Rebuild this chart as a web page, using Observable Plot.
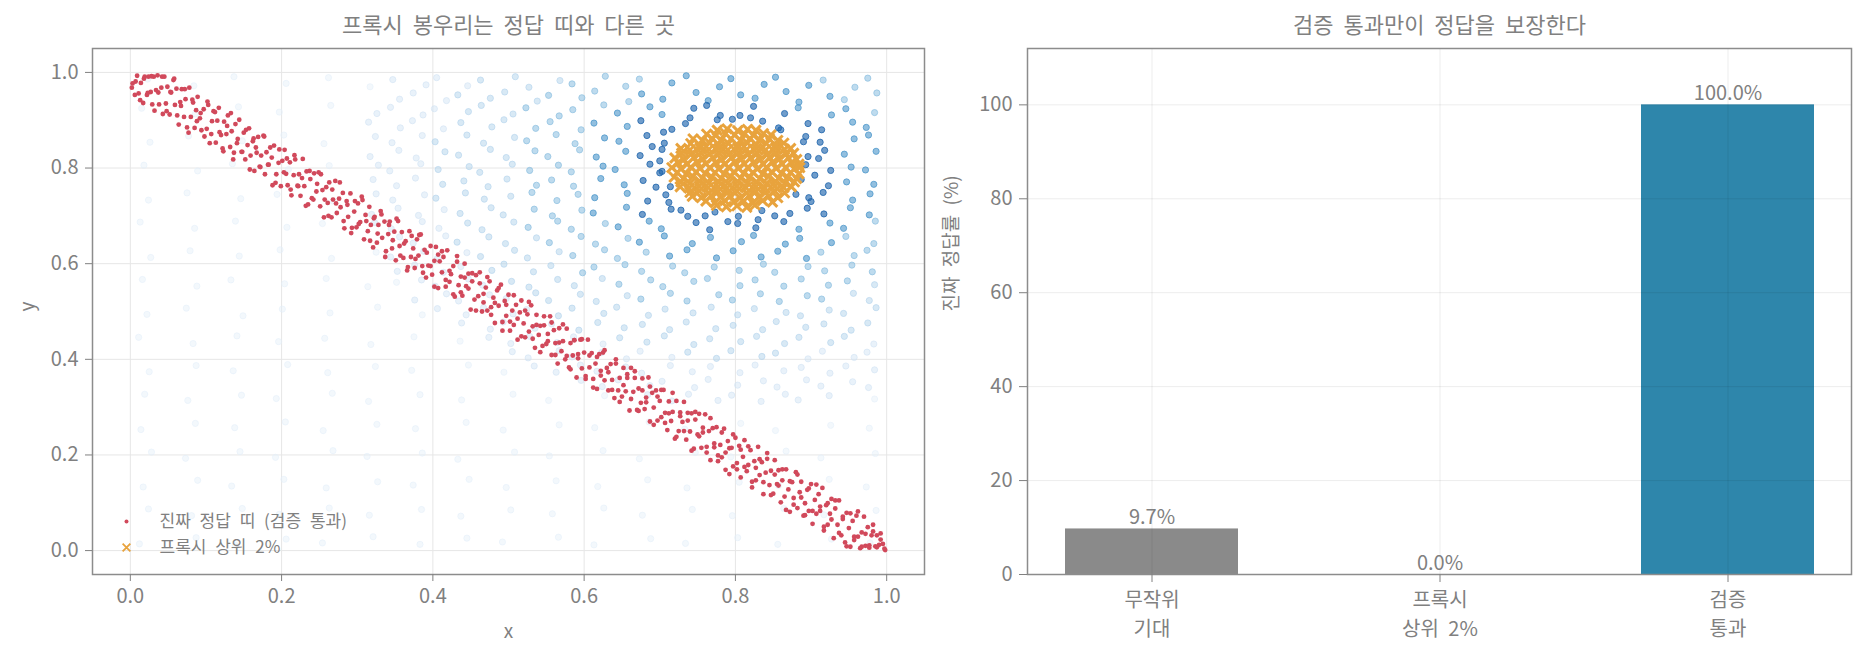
<!DOCTYPE html>
<html>
<head>
<meta charset="utf-8">
<script src="https://cdn.jsdelivr.net/npm/d3@7"></script>
<script src="https://cdn.jsdelivr.net/npm/@observablehq/plot@0.6"></script>
<style>
  html, body { margin: 0; padding: 0; background: #ffffff; }
  #wrap { position: relative; width: 1874px; height: 658px; overflow: hidden; }
  #left { position: absolute; left: 0; top: 0; }
  #right { position: absolute; left: 937px; top: 0; }
</style>
</head>
<body>
<div id="wrap"><div id="left"></div><div id="right"></div></div>
<script>
// ---------------- DATA (scatter coordinates in thousandths, flat x,y pairs) ----------------
const trueBand = [3,977,6,953,9,993,11,956,14,978,17,936,19,991,22,953,24,991,27,959,29,933,31,991,34,963,36,994,38,933,41,968,43,913,45,991,47,935,49,970,
52,912,54,958,57,984,59,932,61,966,64,891,66,938,68,965,71,907,73,944,75,885,78,968,80,907,82,943,85,884,87,921,89,949,92,904,94,879,97,923,
101,882,103,932,105,852,108,898,110,919,113,853,115,899,117,926,120,869,122,841,124,897,127,871,129,910,132,844,134,877,136,818,139,892,141,852,144,901,147,834,
150,874,152,818,155,848,157,883,159,826,162,856,164,794,166,843,169,865,171,803,173,826,176,868,178,787,180,833,183,807,185,843,188,764,190,847,193,787,196,811,
199,762,201,815,204,838,206,788,208,764,211,812,213,743,216,785,218,818,221,763,223,787,225,742,228,819,230,762,233,793,235,724,238,777,240,737,243,789,246,751,
249,791,251,720,254,754,256,697,259,760,261,727,263,770,266,697,268,734,271,773,273,706,276,736,278,718,281,748,283,674,286,731,288,698,291,747,293,675,296,709,
299,676,301,726,304,687,306,740,309,651,311,702,314,668,316,719,318,681,321,634,323,698,326,644,328,681,331,710,333,654,336,688,338,626,341,662,343,688,346,632,
349,667,351,607,354,689,356,637,359,666,361,612,364,647,366,586,369,668,371,614,374,632,376,591,379,651,381,617,384,661,386,595,389,629,391,571,394,596,397,637,
399,577,402,606,404,635,407,549,409,605,412,582,414,614,417,552,419,628,422,562,424,578,427,595,429,531,432,604,434,555,437,573,439,533,442,600,444,553,447,579,
450,504,452,563,455,525,457,576,460,532,462,582,465,500,467,537,470,550,472,502,475,563,477,509,480,529,482,476,485,544,487,512,490,556,492,478,495,522,497,491,
500,535,502,460,505,502,507,472,510,514,512,441,515,498,517,523,520,475,522,446,525,494,527,458,530,513,532,469,535,424,537,493,540,451,542,470,545,428,547,490,
550,432,552,453,555,490,557,409,560,461,562,434,565,391,567,465,570,417,572,438,575,400,577,464,580,383,582,434,585,408,587,440,590,362,592,411,595,441,597,381,
600,414,602,359,605,441,607,383,610,413,612,359,615,391,617,338,620,411,622,376,625,414,627,356,630,382,632,335,635,390,637,357,640,319,642,400,645,335,647,361,
650,322,652,382,655,333,657,361,660,293,662,382,665,332,667,361,670,294,672,339,675,309,677,360,680,296,682,320,685,362,687,270,690,330,692,299,695,335,697,272,
700,313,702,279,705,336,707,288,710,252,712,312,715,271,717,290,720,234,722,313,725,250,727,289,730,269,732,311,735,232,737,272,740,249,742,287,745,213,747,274,
750,243,752,286,755,215,757,247,760,285,762,217,765,250,767,189,770,256,772,216,775,258,777,187,780,221,782,195,785,255,787,205,790,229,792,160,795,215,797,176,
800,236,802,183,805,219,807,153,810,196,812,231,815,166,817,179,820,210,822,144,825,187,827,147,830,217,832,158,835,185,837,118,840,163,842,192,845,137,847,167,
850,119,852,189,855,139,857,168,860,101,862,147,865,113,867,170,870,128,872,81,875,143,877,110,880,164,882,89,885,122,887,144,890,73,892,99,895,127,897,83,
900,139,902,56,905,106,907,77,910,118,912,83,915,131,917,50,920,95,922,54,925,77,927,108,930,26,932,88,935,54,937,105,940,32,942,66,945,17,947,79,
950,47,952,8,955,62,957,22,960,73,962,29,965,5,967,38,970,71,972,10,975,49,977,11,980,32,982,54,985,9,987,32,990,12,992,36,995,14,998,1,
2,968,7,981,13,942,18,987,23,957,28,992,32,920,37,958,42,991,48,919,53,959,58,987,62,910,67,930,72,965,77,874,83,937,88,898,93,915,98,866,
102,939,107,871,112,917,118,875,123,835,128,888,133,915,137,832,142,861,148,834,153,880,158,797,163,862,167,832,172,802,177,866,182,807,187,822,192,769,197,839,
203,791,207,820,212,755,217,827,222,762,227,779,232,721,237,794,242,734,247,767,252,787,257,734,262,700,267,755,272,726,277,770,282,689,287,723,292,664,297,731,
302,683,307,733,312,689,317,648,322,695,327,663,332,703,337,614,342,681,347,649,352,694,357,617,362,642,367,593,372,658,377,610,382,660,387,581,392,623,397,595,
402,552,407,619,412,626,417,566,422,585,427,536,432,616,437,540,442,571,447,548,452,580,457,502,462,559,467,519,472,572,477,493,482,518,487,549,492,460,497,514,
502,479,507,534,512,485,517,448,522,502,527,520,532,443,537,472,542,415,547,471,552,438,557,477,562,409,567,435,572,473,577,407,582,379,587,440,592,402,597,442,
602,365,607,408,612,341,617,405,622,366,627,419,632,373,637,336,642,391,647,311,652,346,657,369,662,317,667,375,672,292,677,335,682,310,687,343,692,263,697,322,
702,336,707,267,712,287,717,330,722,238,727,281,732,250,737,288,742,209,747,290,752,239,757,257,762,205,767,277,772,224,777,199,782,247,787,169,792,214,797,243,
802,170,807,211,812,175,817,218,822,132,827,173,832,191,837,143,842,204,847,116,852,159,857,136,862,170,867,85,872,145,877,96,882,159,887,111,892,74,897,130,
902,83,907,138,912,92,917,42,922,99,927,65,932,105,937,37,942,71,947,9,952,78,957,29,962,82,967,8,972,35,977,6,982,40,987,7,992,23,997,4];

const proxyTop = [775,722,788,719,802,721,815,718,826,723,
761,731,773,728,786,732,798,729,811,731,823,727,836,732,849,729,
743,741,755,738,768,742,780,739,793,741,806,737,818,742,831,739,844,741,856,738,
740,749,752,752,765,748,777,751,790,749,802,752,815,748,827,751,840,749,852,752,865,748,
727,761,739,758,752,762,764,759,777,761,789,758,802,762,814,759,827,761,839,758,852,762,864,759,874,761,
728,771,740,768,753,772,765,769,778,771,790,768,803,772,816,769,828,771,841,768,853,772,866,769,878,771,
719,781,731,778,744,782,756,779,769,781,781,778,794,782,807,779,819,781,832,778,844,782,857,779,869,781,881,778,
723,791,735,788,748,792,760,789,773,791,785,788,798,792,811,789,823,791,836,788,848,792,861,789,873,791,884,788,
716,801,728,798,741,802,753,799,766,801,778,798,791,802,804,799,816,801,829,798,841,802,854,799,866,801,878,798,885,801,
724,811,736,808,749,812,761,809,774,811,786,808,799,812,812,809,824,811,837,808,849,812,862,809,874,811,884,808,
720,821,732,818,745,822,757,819,770,821,782,818,795,822,808,819,820,821,833,818,845,822,858,819,870,821,881,818,
729,831,741,828,754,832,766,829,779,831,791,828,804,832,817,829,829,831,842,828,854,832,867,829,877,831,
728,841,740,838,753,842,765,839,778,841,790,838,803,842,815,839,828,841,840,838,853,842,865,839,873,841,
741,851,753,848,766,852,778,849,791,851,803,848,816,852,828,849,841,851,853,848,864,852,
744,861,756,858,769,862,781,859,794,861,807,858,819,862,832,859,845,861,856,858,
762,871,774,868,787,872,799,869,812,871,824,868,837,872,847,869,
776,879,789,882,803,878,816,881,827,879];

// background points grouped by proxy-score shade (darkest = highest score)
const scoreDark = [745,925,762,931,806,910,824,929,865,914,
675,899,716,881,734,893,776,901,796,902,836,898,857,884,896,893,914,880,
683,868,706,852,893,866,912,854,674,826,703,839,896,824,918,837,
687,808,703,793,893,807,926,795,678,774,714,761,887,776,923,763,
684,731,708,744,897,738,916,749,
677,703,715,714,737,699,773,708,804,699,835,711,852,700,895,716,917,704,
748,686,766,671,803,684,827,675,864,688,
690,845,700,815,695,760,712,728,760,700,790,688,830,692,872,705,900,730,905,785,
910,820,890,855,860,880,820,905,780,910,740,905,705,875,880,745,728,712,700,790];

const scoreMid = [716,978,735,993,779,970,794,987,838,975,853,990,897,973,
676,955,704,944,748,958,764,941,807,953,826,946,867,960,884,938,925,950,
644,915,687,928,703,912,883,926,927,911,946,924,
613,894,657,887,955,896,973,885,627,863,646,856,957,861,976,869,
616,823,655,835,944,829,986,835,625,804,641,797,953,802,972,796,
622,778,653,765,947,771,983,766,614,738,657,747,955,733,978,746,
612,706,656,718,952,717,977,702,
645,677,686,689,702,673,884,672,925,685,943,674,
673,645,706,658,743,642,767,655,808,646,824,659,866,641,885,653,927,644,
713,616,736,629,775,612,797,627,834,614,856,626,894,611];

const scoreLight = [584,976,628,992,655,971,673,986,916,984,958,969,975,988,
553,952,597,947,614,961,659,939,944,943,987,957,
523,926,567,909,585,922,626,932,984,916,
536,883,555,897,596,880,524,857,563,870,588,851,535,836,552,824,594,838,
528,795,566,806,583,792,537,764,557,775,586,762,531,749,564,732,592,745,
534,714,558,700,597,712,
526,676,565,689,583,672,628,684,985,689,
554,644,596,657,615,641,658,653,946,657,983,642,
585,617,627,629,644,611,682,624,913,624,957,617,974,628,
598,581,613,593,654,598,676,584,717,595,733,581,772,593,805,586,837,599,852,582,896,594,918,585,954,597,981,583,
646,557,688,566,704,552,745,563,763,569,806,554,826,566,864,553,887,568,923,555,948,564,
675,526,714,538,736,522,778,535,796,524,833,537,858,521,895,533,914,526];

const scorePale = [463,984,509,991,527,969,568,983,433,953,476,946,495,959,538,940,
447,918,464,931,506,913,437,895,478,886,494,901,
403,855,445,869,467,852,508,864,416,834,434,827,476,839,497,822,
407,797,448,803,462,791,505,808,413,766,441,773,473,761,498,777,
404,737,443,748,468,735,503,741,436,705,477,717,493,702,446,685,465,671,507,687,
432,645,474,656,496,642,537,654,463,615,508,628,525,612,567,625,
478,586,494,599,533,583,556,596,
504,563,527,551,565,567,587,554,624,569,984,556,
536,539,553,523,595,536,616,521,657,533,956,538,977,523,
566,491,584,507,626,496,643,509,685,492,707,505,744,497,768,509,803,493,825,506,867,498,886,491,924,503,943,496,986,508,
593,461,618,477,653,466,677,473,713,462,735,478,774,464,797,471,836,462,854,479,893,467,917,474,953,461,975,476,
647,445,683,436,706,449,745,431,766,443,807,437,828,448,865,433,884,446,926,435,944,448,
737,415,775,402,794,418,835,406,853,413];

const scoreLow = [347,985,391,974,405,989,446,972,356,944,374,957,418,941,
326,914,344,927,387,911,402,924,315,896,357,884,373,899,414,882,
324,866,346,853,386,868,317,824,355,837,378,821,328,806,343,794,384,809,
321,776,352,763,377,779,325,746,347,733,389,744,
319,703,354,716,381,701,415,713,323,686,345,673,386,688,408,674,
356,656,374,643,417,658,344,614,388,626,406,611,445,623,
353,584,376,597,414,582,437,594,385,566,403,553,447,568,466,555,
376,524,418,537,434,522,475,535,497,527,406,506,444,493,467,508,506,495,524,504,
438,476,476,463,493,478,535,465,557,474,
474,446,503,433,528,448,564,435,586,447,625,432,983,432,
505,416,526,403,567,418,584,405,623,414,656,401,674,417,716,404,896,401,915,417,957,404,974,415,
534,386,563,373,595,388,617,375,655,384,676,371,714,387,743,374,767,385,806,372,826,388,864,376,887,383,925,371,946,386,984,378,
596,356,624,343,645,357,687,345,703,354,746,341,764,358,803,346,837,355,855,342,894,357,913,344,955,353,976,341,
684,326,716,313,738,327,777,314,795,325,834,312,866,327,883,315,924,324];

const scoreFaint = [23,986,84,972,137,991,206,977,262,989,317,970,
15,925,86,913,143,928,197,917,265,931,
26,854,77,867,148,857,203,869,256,851,
18,806,89,794,135,809,209,797,263,805,
24,733,75,748,146,736,194,745,268,731,
13,687,85,674,139,689,207,676,254,684,
27,613,79,627,144,616,198,629,266,611,325,624,
16,567,88,553,133,566,204,558,259,569,314,552,352,561,
22,494,74,507,149,491,201,505,264,497,327,509,386,493,
11,446,83,433,141,449,196,437,257,444,318,431,375,447,436,438,
25,374,87,387,136,376,208,389,261,372,324,385,372,377,447,388,494,373,
19,327,76,314,147,325,193,318,267,329,315,312,383,326,438,315,506,327,553,314,627,324,984,317,
14,253,86,266,138,257,205,269,255,251,326,264,377,255,444,268,493,252,567,263,614,257,686,269,733,254,807,266,853,251,926,262,977,256,
28,206,73,193,145,207,192,195,268,209,313,197,386,204,433,191,508,206,554,198,625,209,673,192,747,205,794,196,867,208,913,194,985,203,
17,133,89,147,134,135,203,149,259,131,327,144,374,137,448,149,497,132,563,146,618,134,684,148,736,131,805,143,857,136,924,149,973,133,
24,87,81,73,148,88,197,76,263,89,316,74,385,86,437,72,503,85,558,77,626,89,677,74,743,86,796,73,864,88,917,75,986,84,
12,14,87,27,139,11,206,24,254,16,321,29,383,13,445,26,492,18,566,28,613,12,688,25,734,15,803,27,856,13,927,24,978,16];

const scatterTicks = [0, 0.2, 0.4, 0.6, 0.8, 1.0];

const barCats = ["무작위\n기대", "프록시\n상위 2%", "검증\n통과"];
const barVals = [9.7, 0.0, 100.0];
const barTicks = [0, 20, 40, 60, 80, 100];

const titles = ["프록시 봉우리는 정답 띠와 다른 곳", "검증 통과만이 정답을 보장한다"];
const legendLabels = ["진짜 정답 띠 (검증 통과)", "프록시 상위 2%"];
const axisLabels = {x: "x", y: "y", bar: "진짜 정답률 (%)"};

// ---------------- STYLES ----------------
const FONT = "'Noto Sans CJK KR', 'Noto Sans', sans-serif";
const TEXT = "#808080";
const RED = "#d1495b";
const ORANGE = "#e8a33d";
const barColors = ["#8a8a8a", "#8a8a8a", "#2e86ab"];
const shades = [
  {pts: scoreFaint, c: "#e4eef9", o: 0.55},
  {pts: scoreLow, c: "#d2e3f4", o: 0.6},
  {pts: scorePale, c: "#b5d4ec", o: 0.65},
  {pts: scoreLight, c: "#8bbfe0", o: 0.7},
  {pts: scoreMid, c: "#4a95ca", o: 0.75},
  {pts: scoreDark, c: "#1f65ad", o: 0.8}
];

const toPts = (arr) => d3.range(0, arr.length, 2).map(i => ({x: arr[i] / 1000, y: arr[i + 1] / 1000}));
const fmt1 = d3.format(".1f");
const baseStyle = {fontFamily: FONT, fontSize: "20px", color: TEXT, background: "#ffffff", wordSpacing: "5px", overflow: "visible"};

// ---------------- LEFT: scatter ----------------
const left = Plot.plot({
  width: 937, height: 658,
  marginLeft: 92, marginRight: 13, marginTop: 48, marginBottom: 84,
  style: baseStyle,
  x: {domain: [-0.05, 1.05]},
  y: {domain: [-0.05, 1.05]},
  marks: [
    Plot.gridX(scatterTicks, {stroke: "#e6e6e6", strokeOpacity: 1}),
    Plot.gridY(scatterTicks, {stroke: "#e6e6e6", strokeOpacity: 1}),
    ...shades.map(s => Plot.dot(toPts(s.pts), {x: "x", y: "y", r: 3.1, fill: s.c, stroke: s.c, fillOpacity: s.o * 0.8, strokeOpacity: s.o, strokeWidth: 1})),
    Plot.dot(toPts(trueBand), {x: "x", y: "y", r: 2.4, fill: RED, stroke: "none"}),
    Plot.dot(toPts(proxyTop), {x: "x", y: "y", symbol: "times", r: 4.5, stroke: ORANGE, strokeWidth: 3}),
    Plot.frame({stroke: "#8c8c8c", strokeWidth: 1.5}),
    Plot.axisX(scatterTicks, {tickSize: 7, tickPadding: 7, tickFormat: fmt1, label: null, fontSize: 20}),
    Plot.axisY(scatterTicks, {tickSize: 7, tickPadding: 7, tickFormat: fmt1, label: null, fontSize: 20}),
    Plot.text([titles[0]], {frameAnchor: "top", dy: -23, lineAnchor: "middle", fontSize: 22, fill: TEXT}),
    Plot.text([axisLabels.x], {frameAnchor: "bottom", dy: 57, lineAnchor: "middle", fontSize: 19, fill: TEXT}),
    Plot.text([axisLabels.y], {frameAnchor: "left", dx: -65, rotate: -90, lineAnchor: "middle", fontSize: 19, fill: TEXT}),
    Plot.dot([legendLabels[0]], {frameAnchor: "bottom-left", dx: 34, dy: -53, r: 2, fill: RED}),
    Plot.dot([legendLabels[1]], {frameAnchor: "bottom-left", dx: 34, dy: -27, r: 3.6, symbol: "times", stroke: ORANGE, strokeWidth: 1.8}),
    Plot.text([legendLabels[0]], {frameAnchor: "bottom-left", dx: 67, dy: -53, textAnchor: "start", lineAnchor: "middle", fontSize: 17, fill: TEXT}),
    Plot.text([legendLabels[1]], {frameAnchor: "bottom-left", dx: 67, dy: -27, textAnchor: "start", lineAnchor: "middle", fontSize: 17, fill: TEXT})
  ]
});
document.getElementById("left").appendChild(left);

// ---------------- RIGHT: bars ----------------
const bars = barCats.map((c, i) => ({cat: c, val: barVals[i], color: barColors[i]}));
const right = Plot.plot({
  width: 937, height: 658,
  marginLeft: 90, marginRight: 23, marginTop: 48, marginBottom: 84,
  style: baseStyle,
  x: {domain: barCats, paddingInner: 0.4, paddingOuter: 0.13},
  y: {domain: [0, 112]},
  marks: [
    Plot.barY(bars, {x: "cat", y: "val", fill: "color"}),
    Plot.gridY(barTicks, {stroke: "#000", strokeOpacity: 0.075}),
    Plot.gridX(barCats, {stroke: "#000", strokeOpacity: 0.075}),
    Plot.text(bars, {x: "cat", y: "val", text: d => fmt1(d.val) + "%", dy: -5, lineAnchor: "bottom", fontSize: 20, fill: TEXT}),
    Plot.frame({stroke: "#8c8c8c", strokeWidth: 1.5}),
    Plot.axisX({tickSize: 8, tickPadding: 4, label: null, fontSize: 20, lineHeight: 1.46}),
    Plot.axisY(barTicks, {tickSize: 8, tickPadding: 7, label: null, fontSize: 20}),
    Plot.text([titles[1]], {frameAnchor: "top", dy: -23, lineAnchor: "middle", fontSize: 22, fill: TEXT}),
    Plot.text([axisLabels.bar], {frameAnchor: "left", dx: -76, rotate: -90, lineAnchor: "middle", fontSize: 19, fill: TEXT})
  ]
});
document.getElementById("right").appendChild(right);
</script>
</body>
</html>
